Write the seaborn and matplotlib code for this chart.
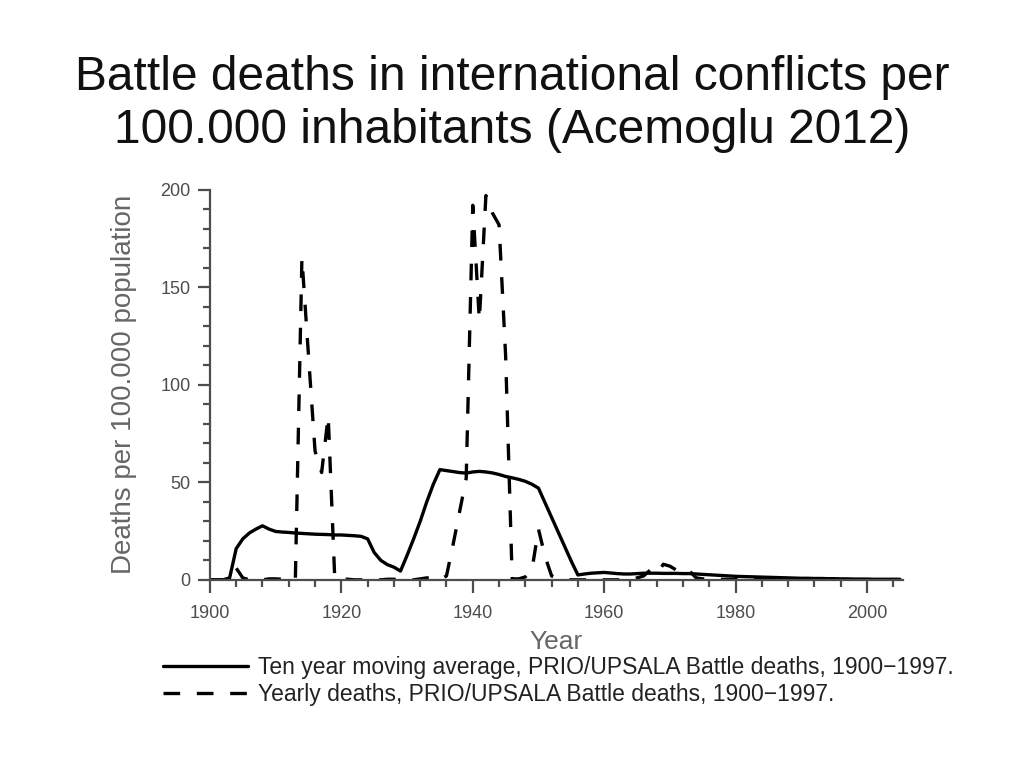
import matplotlib
matplotlib.use("Agg")
import matplotlib.pyplot as plt
import seaborn as sns
import pandas as pd
from matplotlib.ticker import MultipleLocator

# ten year moving average, 1900-2005
avg_years = list(range(1900, 2006))
moving_avg = [
    0, 0, 0, 1, 16, 21, 24, 26, 27.7, 26,
    24.8, 24.5, 24.3, 24, 23.8, 23.6, 23.4, 23.3, 23.2, 23,
    23, 22.8, 22.6, 22.3, 21, 14, 10, 7.8, 6.5, 4.5,
    12.5, 21, 30, 40, 49, 56.5, 56, 55.5, 55, 54.7,
    55.3, 55.6, 55.3, 54.8, 54, 53, 52.3, 51.5, 50.5, 49,
    47, 39.5, 32, 24.5, 17, 9.5, 2.5, 3, 3.4, 3.6,
    3.8, 3.5, 3.2, 3, 3, 3.2, 3.4, 3.4, 3.4, 3.3,
    3.3, 3.3, 3.2, 3.2, 3, 2.8, 2.6, 2.4, 2.2, 2,
    1.8, 1.7, 1.6, 1.5, 1.4, 1.3, 1.2, 1.1, 1, 0.9,
    0.8, 0.8, 0.7, 0.7, 0.6, 0.6, 0.5, 0.5, 0.4, 0.4,
    0.4, 0.3, 0.3, 0.3, 0.3, 0.3,
]

# yearly deaths, 1900-1997
yearly_years = list(range(1900, 1998))
yearly_deaths = [
    0, 0, 0, 0, 6, 1, 0, 0, 0, 0.5,
    0.5, 0.3, 0, 0, 165, 115, 66, 55, 84, 0.5,
    0.5, 0.3, 0, 0, 0, 0, 0, 0.3, 0.3, 0,
    0, 0, 0.5, 1, 1, 0, 2, 18, 35, 52,
    192, 133, 197, 188, 182, 115, 0.5, 0.5, 1.5, 5,
    26, 12, 2, 0.5, 0, 0, 0, 0, 0, 0,
    0, 0, 0, 0, 0, 1, 2, 5, 3, 8,
    7, 5, 3, 4.5, 1, 0.5, 0.3, 0.3, 0.2, 0.2,
    0.2, 0.2, 0.2, 0.1, 0.1, 0.1, 0.1, 0.1, 0.1, 0.1,
    0.1, 0.1, 0.1, 0.1, 0.1, 0.1, 0.1, 0.1,
]

avg_label = "Ten year moving average, PRIO/UPSALA Battle deaths, 1900\u22121997."
yearly_label = "Yearly deaths, PRIO/UPSALA Battle deaths, 1900\u22121997."
title = "Battle deaths in international conflicts per\n100.000 inhabitants (Acemoglu 2012)"

sns.set_style("ticks")
plt.rcParams["font.family"] = ["Liberation Sans", "DejaVu Sans"]

fig = plt.figure(figsize=(10.24, 7.68), dpi=100)
ax = fig.add_axes([0.205, 0.245, 0.677, 0.508])

df_avg = pd.DataFrame({"year": avg_years, "deaths": moving_avg})
df_yearly = pd.DataFrame({"year": yearly_years, "deaths": yearly_deaths})

sns.lineplot(data=df_avg, x="year", y="deaths", ax=ax, color="black",
             linewidth=2.4, label=avg_label)
sns.lineplot(data=df_yearly, x="year", y="deaths", ax=ax, color="black",
             linewidth=2.4, dashes=False, label=yearly_label)
ax.lines[1].set_dashes((5, 5))

ax.set_xlim(1900, 2005.5)
ax.set_ylim(0, 200)
ax.xaxis.set_major_locator(MultipleLocator(20))
ax.xaxis.set_minor_locator(MultipleLocator(4))
ax.yaxis.set_major_locator(MultipleLocator(50))
ax.yaxis.set_minor_locator(MultipleLocator(10))

grey = "#4d4d4d"
for side in ["top", "right"]:
    ax.spines[side].set_visible(False)
for side in ["left", "bottom"]:
    ax.spines[side].set_color(grey)
    ax.spines[side].set_linewidth(1.6)
ax.tick_params(which="major", length=9, width=1.6, color=grey, labelcolor=grey,
               labelsize=13, pad=5)
ax.tick_params(which="minor", length=5, width=1.6, color=grey)
ax.tick_params(axis="x", which="major", pad=9)

ax.set_xlabel("Year", fontsize=19, color="#666666", labelpad=6)
ax.set_ylabel("Deaths per 100.000 population", fontsize=20, color="#666666",
              labelpad=17)

ax.get_legend().remove()
handles, labels = ax.get_legend_handles_labels()
fig.legend(handles, labels, loc="upper left", bbox_to_anchor=(0.15, 0.158),
           frameon=False, fontsize=16.5, handlelength=3.7, handletextpad=0.45,
           labelspacing=0.18, borderaxespad=0, labelcolor="#222222")

fig.text(0.5, 0.865, title, ha="center", va="center", fontsize=34.5,
         linespacing=1.22, color="#111111")

fig.savefig("out.png", dpi=100)
